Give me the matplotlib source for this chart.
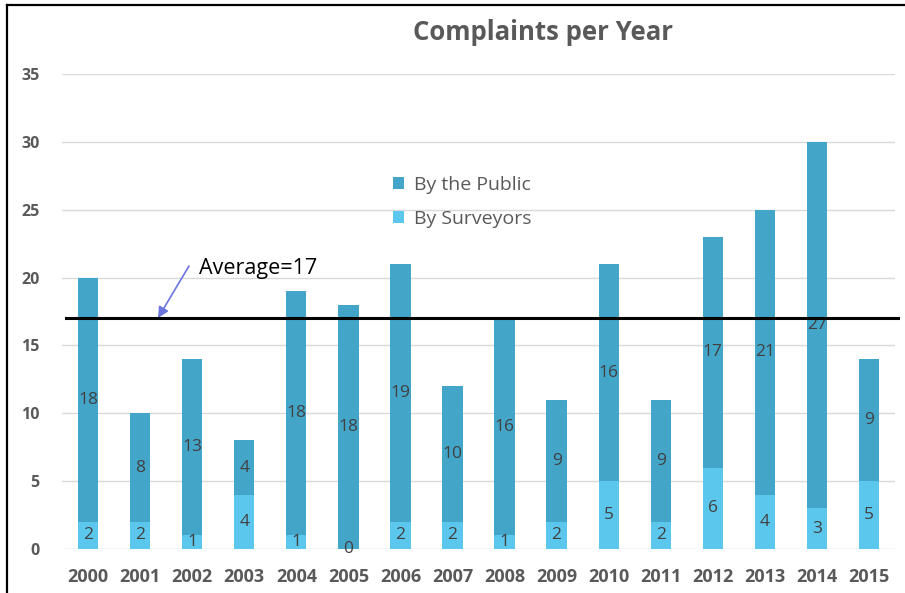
import matplotlib
matplotlib.use("Agg")
import matplotlib.pyplot as plt
from matplotlib.lines import Line2D
import numpy as np

plt.rcParams['font.family'] = ['Open Sans', 'DejaVu Sans']

years = ['2000', '2001', '2002', '2003', '2004', '2005', '2006', '2007',
         '2008', '2009', '2010', '2011', '2012', '2013', '2014', '2015']
by_surveyors = [2, 2, 1, 4, 1, 0, 2, 2, 1, 2, 5, 2, 6, 4, 3, 5]
by_public = [18, 8, 13, 4, 18, 18, 19, 10, 16, 9, 16, 9, 17, 21, 27, 9]
average = 17
yticks = [0, 5, 10, 15, 20, 25, 30, 35]

c_public = '#43A6C9'
c_surv = '#5CC7EC'
c_text = '#595959'
c_label = '#404040'

fig = plt.figure(figsize=(9.05, 5.93), dpi=100)
ax = fig.add_axes([0.0685, 0.0742, 0.9205, 0.801])

x = np.arange(len(years))
w = 0.39
b1 = ax.bar(x, by_surveyors, w, color=c_surv, label='By Surveyors', zorder=2)
b2 = ax.bar(x, by_public, w, bottom=by_surveyors, color=c_public,
            label='By the Public', zorder=2)

for xi, s, p in zip(x, by_surveyors, by_public):
    ax.text(xi, s / 2, str(s), ha='center', va='center', fontsize=12.5,
            color=c_label, zorder=3)
    ax.text(xi, s + p / 2, str(p), ha='center', va='center', fontsize=12.5,
            color=c_label, zorder=3)

ax.axhline(average, xmin=0.005, xmax=1.004, color='black', lw=2.2,
           zorder=4, clip_on=False)

# label and pointer for the average line
fig.text(199 / 905, 1 - 268 / 593, 'Average=17', fontsize=15.5,
         color='black', va='center', ha='left')
ax.annotate('', xy=(158, 593 - 318), xycoords='figure pixels',
            xytext=(189, 593 - 266), textcoords='figure pixels',
            arrowprops=dict(arrowstyle='-|>', color='#6B75DB', lw=1.2,
                            mutation_scale=16, shrinkA=0, shrinkB=0))

ax.set_xlim(-0.5, 15.5)
ax.set_ylim(0, 35)
ax.set_yticks(yticks)
ax.set_xticks(x)
ax.set_xticklabels(years)
ax.grid(axis='y', color='#D9D9D9', lw=1, zorder=0)
ax.set_axisbelow(True)
for sp in ax.spines.values():
    sp.set_visible(False)
ax.tick_params(length=0)
ax.tick_params(axis='x', labelsize=13, labelcolor=c_text, pad=14)
ax.tick_params(axis='y', labelsize=11.5, labelcolor=c_text, pad=16)
for lab in ax.get_xticklabels() + ax.get_yticklabels():
    lab.set_fontweight('bold')

handles = [b2, b1]
leg = ax.legend(handles, ['By the Public', 'By Surveyors'],
                loc='upper left', bbox_to_anchor=(0.376, 0.822), frameon=False,
                fontsize=14, handlelength=0.6, handleheight=0.6,
                handletextpad=0.5, labelspacing=0.82)
for t in leg.get_texts():
    t.set_color(c_text)

fig.text(543 / 905, 1 - 33 / 593, 'Complaints per Year', ha='center',
         va='center', fontsize=18.5, fontweight='bold', color=c_text)

# frame edges on the left and top
fig.add_artist(Line2D([7 / 905, 7 / 905], [0, 1 - 5 / 593],
                      transform=fig.transFigure, color='black', lw=1.6))
fig.add_artist(Line2D([7 / 905, 1], [1 - 5 / 593, 1 - 5 / 593],
                      transform=fig.transFigure, color='black', lw=1.6))

fig.savefig('out.png', dpi=100)
